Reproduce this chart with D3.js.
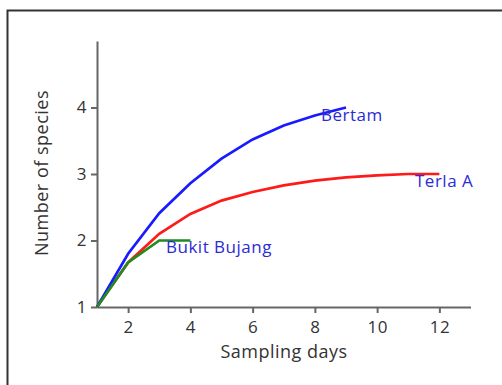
<!DOCTYPE html>
<html>
<head>
<meta charset="utf-8">
<script src="https://cdn.jsdelivr.net/npm/d3@7"></script>
<style>
  body { margin: 0; background: #fff; }
  .axis path, .axis line { stroke: #666; stroke-width: 2px; }
  .axis text { font-family: "Open Sans", sans-serif; font-size: 17px; fill: #333; letter-spacing: 0.5px; }
  .site-label { font-family: "Open Sans", sans-serif; font-size: 17px; fill: #2b2bd6; letter-spacing: 0.5px; }
  .axis-title { font-family: "Open Sans", sans-serif; font-size: 18px; fill: #333; letter-spacing: 0.5px; }
</style>
</head>
<body>
<div id="chart"></div>
<script>
// sampling days and species counts
var bertamDays = [1, 2, 3, 4, 5, 6, 7, 8, 9];
var bertamSpecies = [1, 1.8, 2.41, 2.86, 3.23, 3.52, 3.73, 3.88, 4.0];

var terlaDays = [1, 2, 3, 4, 5, 6, 7, 8, 9, 10, 11, 12];
var terlaSpecies = [1, 1.67, 2.1, 2.4, 2.6, 2.73, 2.83, 2.9, 2.95, 2.98, 3.0, 3.0];

var bujangDays = [1, 2, 3, 4];
var bujangSpecies = [1, 1.67, 2.0, 2.0];

var xTicks = [2, 4, 6, 8, 10, 12];
var yTicks = [1, 2, 3, 4];

(function() {
  var width = 502, height = 385;

  var svg = d3.select("#chart")
    .append("svg")
    .attr("width", width)
    .attr("height", height);

  // frame, cut off at right and bottom like the original
  svg.append("path")
    .attr("d", "M7.5," + height + "V10.5H" + width)
    .attr("fill", "none")
    .attr("stroke", "#333")
    .attr("stroke-width", 2);

  var xPositionScale = d3.scaleLinear().domain([1, 13]).range([97, 470.5]);
  var yPositionScale = d3.scaleLinear().domain([1, 5]).range([307, 41]);

  var xAxis = d3.axisBottom(xPositionScale)
    .tickValues(xTicks)
    .tickFormat(d3.format("d"))
    .tickSize(6).tickSizeOuter(0).tickPadding(8);
  svg.append("g")
    .attr("class", "axis x-axis")
    .attr("transform", "translate(0,307)")
    .call(xAxis);

  var yAxis = d3.axisLeft(yPositionScale)
    .tickValues(yTicks)
    .tickFormat(d3.format("d"))
    .tickSize(6).tickSizeOuter(0).tickPadding(4);
  svg.append("g")
    .attr("class", "axis y-axis")
    .attr("transform", "translate(97,0)")
    .call(yAxis);

  var line = d3.line()
    .x(function(d) { return xPositionScale(d[0]); })
    .y(function(d) { return yPositionScale(d[1]); });

  var series = [
    { days: terlaDays, values: terlaSpecies, color: "#ff1a1a" },
    { days: bertamDays, values: bertamSpecies, color: "#1a1aff" },
    { days: bujangDays, values: bujangSpecies, color: "#1f8c1f" }
  ];

  series.forEach(function(s) {
    svg.append("path")
      .datum(d3.zip(s.days, s.values))
      .attr("d", line)
      .attr("fill", "none")
      .attr("stroke", s.color)
      .attr("stroke-width", 2.7);
  });

  svg.append("text").attr("class", "site-label").attr("x", 321).attr("y", 121).text("Bertam");
  svg.append("text").attr("class", "site-label").attr("x", 415).attr("y", 187).text("Terla A");
  svg.append("text").attr("class", "site-label").attr("x", 166).attr("y", 253).text("Bukit Bujang");

  svg.append("text")
    .attr("class", "axis-title")
    .attr("text-anchor", "middle")
    .attr("x", 284)
    .attr("y", 358)
    .text("Sampling days");

  svg.append("text")
    .attr("class", "axis-title")
    .attr("text-anchor", "middle")
    .attr("transform", "translate(48,173) rotate(-90)")
    .text("Number of species");
})();
</script>
</body>
</html>
